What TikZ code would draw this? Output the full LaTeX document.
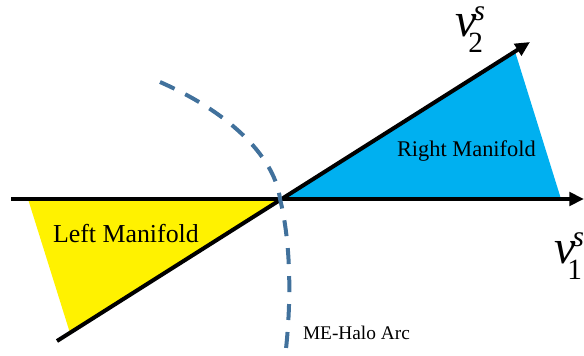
\documentclass[tikz,border=0pt]{standalone}
\usepackage{fontspec}
\setmainfont{Liberation Serif}
\usetikzlibrary{arrows.meta, calc}
\tikzset{
  axis/.style = {-{Triangle[length=11pt,width=10pt]},
                 line width=3pt, black},
  halo/.style = {line width=3pt, draw={rgb,255:red,65;green,113;blue,156},
                 dash pattern=on 12pt off 9pt},
  lbl/.style  = {inner sep=0pt, outer sep=0pt, anchor=base west}
}
\definecolor{rightblue}{RGB}{0,176,240}
\newcommand{\basisvec}[1]{%
  {\fontsize{36}{36}\selectfont\itshape v}\kern-6pt%
  {\fontsize{22}{22}\selectfont\rlap{\kern4pt\raisebox{12.5pt}{\itshape s}}\raisebox{-12pt}{#1}}}

\begin{document}
\begin{tikzpicture}[x=0.75pt, y=-0.75pt]
  \useasboundingbox (0,0) rectangle (584,356);
  %% Axis ends and origin
  \coordinate (O)  at (280,199);
  \coordinate (A1) at (11,199);
  \coordinate (B1) at (584,199);
  \coordinate (A2) at (57,341);
  \coordinate (B2) at (530,42);

  %% Manifold corners
  \coordinate (LT) at (28,199);
  \coordinate (LB) at (70,333);
  \coordinate (RT) at (515,51.5);
  \coordinate (RB) at (561,199);

  %% Left manifold (yellow)
  \fill[yellow] (LT) -- (O) -- (LB) -- cycle;

  %% Right manifold (blue)
  \fill[rightblue] (O) -- (RT) -- (RB) -- cycle;

  %% Stable directions
  \draw[axis] (A1) -- (B1);
  \draw[axis] (A2) -- (B2);

  %% ME-Halo arc
  \draw[halo] (160,82) .. controls (235,115) and (275,160) .. (O)
              .. controls (289,235) and (293,290) .. (285,358);

  %% Labels
  \node[lbl, font=\fontsize{16.8}{16.8}\selectfont] (rm) at (397,156) {Right Manifold};
  \node[lbl, font=\fontsize{19.4}{19.4}\selectfont] (lm) at (53,242) {Left Manifold};
  \node[lbl, font=\fontsize{14.5}{14.5}\selectfont] (arc) at (303,339) {ME-Halo Arc};
  \node[lbl] (v2) at (455,37) {\basisvec{2}};
  \node[lbl] (v1) at (554,263) {\basisvec{1}};

\end{tikzpicture}
\end{document}
